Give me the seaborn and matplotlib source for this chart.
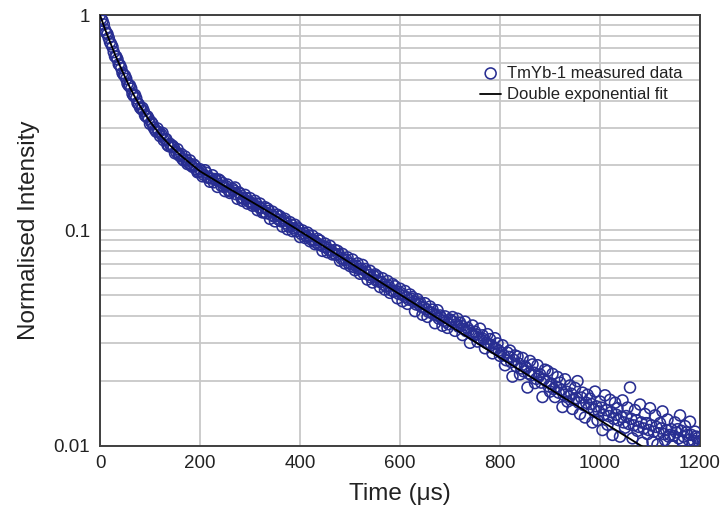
import matplotlib
matplotlib.use("Agg")
import matplotlib.pyplot as plt
import matplotlib.ticker as mticker
import pandas as pd
import seaborn as sns

# measured decay (time in microseconds, intensity normalised to 1)
# read in two interleaved passes along the band
time_a = [
    0, 5, 10, 15, 20, 25, 30, 35, 40, 45, 50, 55, 60, 65, 70, 75, 80, 85, 90, 95, 100,
    105, 110, 115, 120, 125, 130, 135, 140, 145, 150, 155, 160, 165, 170, 175, 180, 185, 190, 195, 200,
    205, 210, 215, 220, 225, 230, 235, 240, 245, 250, 255, 260, 265, 270, 275, 280, 285, 290, 295, 300,
    305, 310, 315, 320, 325, 330, 335, 340, 345, 350, 355, 360, 365, 370, 375, 380, 385, 390, 395, 400,
    405, 410, 415, 420, 425, 430, 435, 440, 445, 450, 455, 460, 465, 470, 475, 480, 485, 490, 495, 500,
    505, 510, 515, 520, 525, 530, 535, 540, 545, 550, 555, 560, 565, 570, 575, 580, 585, 590, 595, 600,
    605, 610, 615, 620, 625, 630, 635, 640, 645, 650, 655, 660, 665, 670, 675, 680, 685, 690, 695, 700,
    705, 710, 715, 720, 725, 730, 735, 740, 745, 750, 755, 760, 765, 770, 775, 780, 785, 790, 795, 800,
    805, 810, 815, 820, 825, 830, 835, 840, 845, 850, 855, 860, 865, 870, 875, 880, 885, 890, 895, 900,
    905, 910, 915, 920, 925, 930, 935, 940, 945, 950, 955, 960, 965, 970, 975, 980, 985, 990, 995, 1000,
    1005, 1010, 1015, 1020, 1025, 1030, 1035, 1040, 1045, 1050, 1055, 1060, 1065, 1070, 1075, 1080, 1085, 1090, 1095, 1100,
    1105, 1110, 1115, 1120, 1125, 1130, 1135, 1140, 1145, 1150, 1155, 1160, 1165, 1170, 1175, 1180, 1185, 1190, 1195, 1200,
]
intensity_a = [
    1.0, 0.94, 0.855, 0.815, 0.748, 0.71, 0.642, 0.622, 0.585, 0.538, 0.522, 0.480, 0.470, 0.430, 0.425, 0.390, 0.372, 0.370, 0.342, 0.338, 0.312,
    0.312, 0.293, 0.297, 0.274, 0.283, 0.266, 0.249, 0.252, 0.247, 0.228, 0.238, 0.221, 0.214, 0.220, 0.203, 0.211, 0.197, 0.199, 0.186, 0.192,
    0.178, 0.190, 0.176, 0.168, 0.180, 0.173, 0.159, 0.170, 0.166, 0.152, 0.163, 0.149, 0.156, 0.158, 0.140, 0.148, 0.137, 0.146, 0.133, 0.141,
    0.130, 0.137, 0.124, 0.133, 0.121, 0.128, 0.126, 0.113, 0.122, 0.110, 0.118, 0.116, 0.104, 0.113, 0.101, 0.109, 0.099, 0.106, 0.103, 0.093,
    0.0998, 0.0921, 0.0975, 0.0889, 0.0943, 0.0861, 0.0912, 0.0895, 0.0802, 0.0867, 0.0790, 0.0846, 0.0772, 0.0810, 0.0802, 0.0721, 0.0776, 0.0701, 0.0748, 0.0682,
    0.0731, 0.0652, 0.0702, 0.0628, 0.0690, 0.0661, 0.0590, 0.0648, 0.0572, 0.0624, 0.0611, 0.0545, 0.0598, 0.0530, 0.0581, 0.0512, 0.0562, 0.0549, 0.0483, 0.0535,
    0.0468, 0.0522, 0.0455, 0.0503, 0.0489, 0.0421, 0.0478, 0.0462, 0.0405, 0.0458, 0.0396, 0.0442, 0.0428, 0.0370, 0.0425, 0.0402, 0.0360, 0.0398, 0.0352, 0.0385,
    0.0395, 0.0341, 0.0388, 0.0372, 0.0326, 0.0376, 0.0352, 0.0300, 0.0361, 0.0338, 0.0304, 0.0349, 0.0325, 0.0283, 0.0329, 0.0312, 0.0268, 0.0315, 0.0298, 0.0261,
    0.0292, 0.0236, 0.0270, 0.0276, 0.0209, 0.0262, 0.0259, 0.0214, 0.0255, 0.0233, 0.0186, 0.0247, 0.0238, 0.0195, 0.0236, 0.0214, 0.0168, 0.0225, 0.0222, 0.0178,
    0.0215, 0.0168, 0.0208, 0.0196, 0.0151, 0.0203, 0.0160, 0.0190, 0.0148, 0.0185, 0.0199, 0.0140, 0.0176, 0.0135, 0.0172, 0.0165, 0.0128, 0.0178, 0.0131, 0.0160,
    0.0118, 0.0171, 0.0125, 0.0163, 0.0112, 0.0158, 0.0149, 0.0110, 0.0162, 0.0121, 0.0150, 0.0186, 0.0108, 0.0146, 0.0117, 0.0155, 0.0103, 0.0140, 0.0113, 0.0149,
    0.0104, 0.0138, 0.0101, 0.0127, 0.0144, 0.0106, 0.0132, 0.0112, 0.0100, 0.0128, 0.0119, 0.0138, 0.0105, 0.0123, 0.0112, 0.0129, 0.0103, 0.0116, 0.0108, 0.0102,
]

time_b = [
    2.5, 7.5, 12.5, 17.5, 22.5, 27.5, 32.5, 37.5, 42.5, 47.5, 52.5, 57.5, 62.5, 67.5, 72.5, 77.5, 82.5, 87.5, 92.5, 97.5,
    102.5, 107.5, 112.5, 117.5, 122.5, 127.5, 132.5, 137.5, 142.5, 147.5, 152.5, 157.5, 162.5, 167.5, 172.5, 177.5, 182.5, 187.5, 192.5, 197.5,
    202.5, 207.5, 212.5, 217.5, 222.5, 227.5, 232.5, 237.5, 242.5, 247.5, 252.5, 257.5, 262.5, 267.5, 272.5, 277.5, 282.5, 287.5, 292.5, 297.5,
    302.5, 307.5, 312.5, 317.5, 322.5, 327.5, 332.5, 337.5, 342.5, 347.5, 352.5, 357.5, 362.5, 367.5, 372.5, 377.5, 382.5, 387.5, 392.5, 397.5,
    402.5, 407.5, 412.5, 417.5, 422.5, 427.5, 432.5, 437.5, 442.5, 447.5, 452.5, 457.5, 462.5, 467.5, 472.5, 477.5, 482.5, 487.5, 492.5, 497.5,
    502.5, 507.5, 512.5, 517.5, 522.5, 527.5, 532.5, 537.5, 542.5, 547.5, 552.5, 557.5, 562.5, 567.5, 572.5, 577.5, 582.5, 587.5, 592.5, 597.5,
    602.5, 607.5, 612.5, 617.5, 622.5, 627.5, 632.5, 637.5, 642.5, 647.5, 652.5, 657.5, 662.5, 667.5, 672.5, 677.5, 682.5, 687.5, 692.5, 697.5,
    702.5, 707.5, 712.5, 717.5, 722.5, 727.5, 732.5, 737.5, 742.5, 747.5, 752.5, 757.5, 762.5, 767.5, 772.5, 777.5, 782.5, 787.5, 792.5, 797.5,
    802.5, 807.5, 812.5, 817.5, 822.5, 827.5, 832.5, 837.5, 842.5, 847.5, 852.5, 857.5, 862.5, 867.5, 872.5, 877.5, 882.5, 887.5, 892.5, 897.5,
    902.5, 907.5, 912.5, 917.5, 922.5, 927.5, 932.5, 937.5, 942.5, 947.5, 952.5, 957.5, 962.5, 967.5, 972.5, 977.5, 982.5, 987.5, 992.5, 997.5,
    1002.5, 1007.5, 1012.5, 1017.5, 1022.5, 1027.5, 1032.5, 1037.5, 1042.5, 1047.5, 1052.5, 1057.5, 1062.5, 1067.5, 1072.5, 1077.5, 1082.5, 1087.5, 1092.5, 1097.5,
    1102.5, 1107.5, 1112.5, 1117.5, 1122.5, 1127.5, 1132.5, 1137.5, 1142.5, 1147.5, 1152.5, 1157.5, 1162.5, 1167.5, 1172.5, 1177.5, 1182.5, 1187.5, 1192.5, 1197.5,
]
intensity_b = [
    0.962, 0.905, 0.828, 0.782, 0.731, 0.672, 0.641, 0.590, 0.566, 0.527, 0.505, 0.470, 0.455, 0.421, 0.410, 0.385, 0.366, 0.358, 0.337, 0.329,
    0.318, 0.300, 0.287, 0.286, 0.279, 0.262, 0.265, 0.246, 0.244, 0.243, 0.231, 0.224, 0.226, 0.211, 0.212, 0.205, 0.200, 0.202, 0.192, 0.187,
    0.188, 0.181, 0.185, 0.175, 0.174, 0.167, 0.171, 0.172, 0.161, 0.159, 0.160, 0.153, 0.151, 0.153, 0.147, 0.150, 0.142, 0.140, 0.141, 0.136,
    0.134, 0.132, 0.133, 0.128, 0.127, 0.122, 0.120, 0.123, 0.118, 0.116, 0.118, 0.112, 0.110, 0.111, 0.1075, 0.104, 0.106, 0.102, 0.099, 0.101,
    0.0962, 0.0970, 0.0938, 0.0946, 0.0905, 0.0898, 0.0876, 0.0860, 0.0851, 0.0839, 0.0835, 0.0812, 0.0804, 0.0781, 0.0769, 0.0773, 0.0740, 0.0733, 0.0730, 0.0702,
    0.0697, 0.0675, 0.0684, 0.0661, 0.0660, 0.0630, 0.0641, 0.0620, 0.0603, 0.0612, 0.0584, 0.0578, 0.0574, 0.0559, 0.0548, 0.0552, 0.0526, 0.0520, 0.0521, 0.0506,
    0.0510, 0.0497, 0.0489, 0.0476, 0.0481, 0.0466, 0.0452, 0.0455, 0.0441, 0.0437, 0.0430, 0.0417, 0.0414, 0.0409, 0.0402, 0.0389, 0.0392, 0.0380, 0.0376, 0.0366,
    0.0380, 0.0375, 0.0366, 0.0356, 0.0360, 0.0347, 0.0340, 0.0342, 0.0331, 0.0325, 0.0328, 0.0316, 0.0310, 0.0312, 0.0300, 0.0296, 0.0293, 0.0284, 0.0281, 0.0276,
    0.0270, 0.0262, 0.0249, 0.0258, 0.0244, 0.0250, 0.0233, 0.0240, 0.0228, 0.0221, 0.0229, 0.0216, 0.0212, 0.0218, 0.0204, 0.0209, 0.0196, 0.0203, 0.0199, 0.0188,
    0.0194, 0.0183, 0.0187, 0.0176, 0.0181, 0.0172, 0.0178, 0.0169, 0.0174, 0.0163, 0.0166, 0.0158, 0.0167, 0.0154, 0.0158, 0.0150, 0.0156, 0.0147, 0.0152, 0.0144,
    0.0150, 0.0139, 0.0146, 0.0137, 0.0143, 0.0133, 0.0139, 0.0131, 0.0136, 0.0128, 0.0137, 0.0126, 0.0133, 0.0124, 0.0131, 0.0122, 0.0128, 0.0120, 0.0127, 0.0118,
    0.0124, 0.0116, 0.0122, 0.0114, 0.0120, 0.0113, 0.0118, 0.0110, 0.0119, 0.0111, 0.0115, 0.0108, 0.0117, 0.0110, 0.0115, 0.0106, 0.0112, 0.0105, 0.0110, 0.0104,
]

# double exponential fit
fit_time = [0, 10, 20, 30, 40, 50, 60, 70, 80, 90, 100, 120, 140, 160, 180, 200,
            250, 300, 350, 400, 500, 600, 700, 800, 900, 1000, 1100]
fit_value = [1.0, 0.86, 0.75, 0.655, 0.58, 0.515, 0.46, 0.415, 0.378, 0.347, 0.32, 0.278, 0.248, 0.224, 0.205, 0.188,
             0.160, 0.137, 0.117, 0.099, 0.0706, 0.0503, 0.0359, 0.0256, 0.0183, 0.0131, 0.0094]

x_ticks = [0, 200, 400, 600, 800, 1000, 1200]
y_ticks = [0.01, 0.1, 1]
y_tick_labels = ['0.01', '0.1', '1']

df = pd.concat([pd.DataFrame({'time': time_a, 'intensity': intensity_a}),
                pd.DataFrame({'time': time_b, 'intensity': intensity_b})]).sort_values('time')
df_fit = pd.DataFrame({'time': fit_time, 'intensity': fit_value})

sns.set_style('white')
plt.rcParams['font.family'] = ['Liberation Sans', 'DejaVu Sans']

fig = plt.figure(figsize=(7.22, 5.18), dpi=100)
ax = fig.add_axes([100 / 722, 1 - 445.5 / 518, 600 / 722, 430.5 / 518])

sns.scatterplot(data=df, x='time', y='intensity', ax=ax, marker='o', s=62,
                fc='none', ec='#282e92', linewidth=1.15,
                label='TmYb-1 measured data', zorder=3)
sns.lineplot(data=df_fit, x='time', y='intensity', ax=ax, color='black',
             linewidth=1.3, label='Double exponential fit', zorder=4)

ax.set_yscale('log')
ax.set_xlim(0, 1200)
ax.set_ylim(0.01, 1)
ax.set_xticks(x_ticks)
ax.set_yticks(y_ticks)
ax.yaxis.set_major_formatter(mticker.FixedFormatter(y_tick_labels))
ax.yaxis.set_minor_formatter(mticker.NullFormatter())

ax.grid(True, which='both', color='#c8c8c8', linewidth=1.3, zorder=0)
ax.set_axisbelow(True)
ax.tick_params(axis='both', which='major', direction='out', length=4, width=1,
               color='#404040', labelsize=13.5, pad=3, labelcolor='#222222')
ax.tick_params(axis='y', which='minor', length=0)
for sp in ax.spines.values():
    sp.set_color('#404040')
    sp.set_linewidth(1.4)

ax.set_xlabel('Time (\u03bcs)', fontsize=17.5, color='#222222', labelpad=8)
ax.set_ylabel('Normalised Intensity', fontsize=17.5, color='#222222', labelpad=10)

leg = ax.legend(loc='upper left', bbox_to_anchor=(0.633, 0.882), frameon=False,
                fontsize=12, handlelength=1.3, handletextpad=0.35, borderpad=0,
                labelspacing=0.4, borderaxespad=0)
for t in leg.get_texts():
    t.set_color('#222222')

fig.savefig('out.png', dpi=100)
